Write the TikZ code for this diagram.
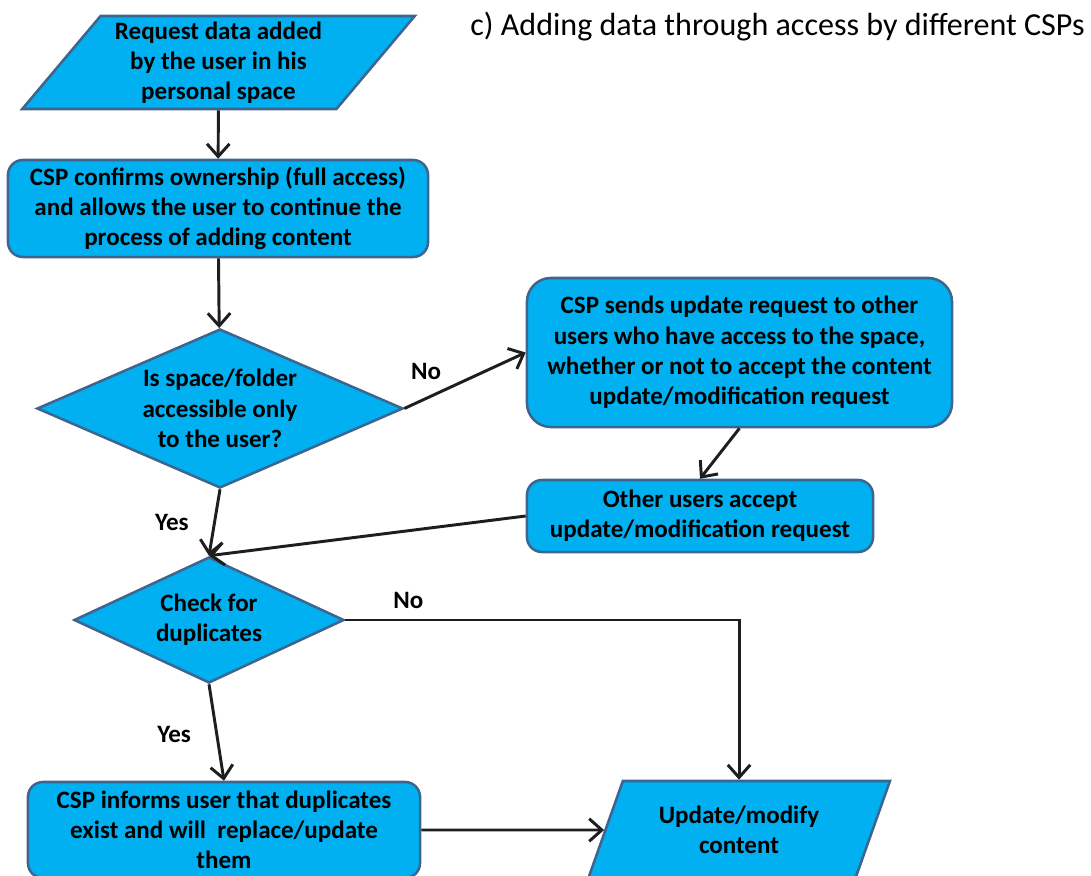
\documentclass[tikz,border=0pt]{standalone}
\usepackage{fontspec}
\setmainfont{Carlito}
\usetikzlibrary{shapes.geometric,arrows.meta}
\definecolor{boxblue}{HTML}{00B0F0}
\definecolor{edgeblue}{HTML}{3D6590}
\definecolor{arrowgrey}{HTML}{1E1E1E}

\begin{document}
\begin{tikzpicture}[x=0.025cm, y=-0.025cm,
  every node/.style={font=\fontsize{17.8}{21.5}\selectfont\bfseries, align=center, text=black},
  process/.style={draw=edgeblue, line width=1.8pt, fill=boxblue, rounded corners=0.375cm, inner sep=0pt},
  io/.style={trapezium, draw=edgeblue, line width=1.8pt, fill=boxblue, trapezium stretches=true, inner sep=0pt},
  decision/.style={diamond, draw=edgeblue, line width=1.8pt, fill=boxblue, inner sep=0pt, aspect=2.3},
  flow/.style={draw=arrowgrey, line width=2.1pt, -{Straight Barb[length=9pt,width=16pt]}},
  answer/.style={font=\fontsize{17.8}{21.5}\selectfont\bfseries}]
\useasboundingbox (0,0) rectangle (1091,875);

% shapes
\node[io, trapezium left angle=50, trapezium right angle=130,
  minimum width=9.825cm, minimum height=2.325cm] (request) at (218.5,62.5)
  {Request data added\\by the user in his\\personal space};
\node[process, minimum width=10.5cm, minimum height=2.425cm] (confirm) at (218,208.5)
  {CSP confirms ownership (full access)\\and allows the user to continue the\\process of adding content};
\node[decision, minimum width=9.15cm, minimum height=3.975cm] (owner) at (220,408.5)
  {Is space/folder\\accessible only\\to the user?};
\node[process, rounded corners=0.6cm, minimum width=10.625cm, minimum height=3.725cm] (sendreq) at (739.5,352.5)
  {CSP sends update request to other\\users who have access to the space,\\whether or not to accept the content\\update/modification request};
\node[process, minimum width=8.65cm, minimum height=1.8cm] (accept) at (700,516)
  {Other users accept\\update/modification request};
\node[decision, minimum width=6.75cm, minimum height=3.15cm] (dupl) at (209,620)
  {Check for\\duplicates};
\node[process, minimum width=9.8cm, minimum height=2.4cm] (inform) at (224,830)
  {CSP informs user that duplicates\\exist and will\ \ replace/update\\them};
\node[io, trapezium left angle=63.4, trapezium right angle=116.6,
  minimum width=7.55cm, minimum height=2.45cm] (update) at (739,830)
  {Update/modify\\content};

\node[font=\fontsize{22.8}{26}\selectfont] (title) at (777.5,27)
  {c) Adding data through access by different CSPs};

% connectors
\draw[flow] (request) -- (confirm);
\draw[flow] (confirm) -- (owner);
\draw[flow] (owner.east) -- node[answer, pos=0.18, above=9pt] (ano) {No} (sendreq.west);
\draw[flow] (sendreq.south) -- (accept.north);
\draw[flow] (owner.south) -- node[answer, pos=0.5, left=14pt] (ayes) {Yes} (dupl.north);
\draw[flow] (accept.west) -- (dupl.north);
\draw[flow] (dupl.east) -| node[answer, pos=0.08, above=4pt] (bno) {No} (update.north);
\draw[flow] (dupl.south) -- node[answer, pos=0.52, left=14pt] (byes) {Yes} (inform.north);
\draw[flow] (inform.east) -- (update.west);
\end{tikzpicture}
\end{document}
